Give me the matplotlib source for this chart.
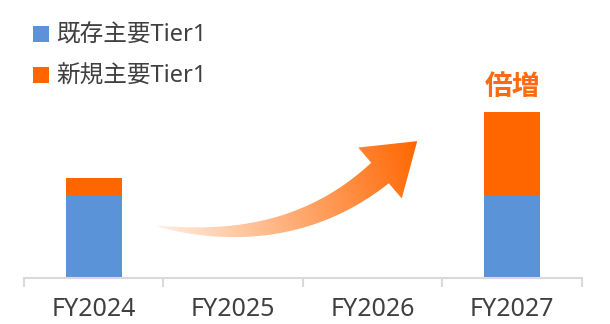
import numpy as np
import matplotlib
matplotlib.use("Agg")
import matplotlib.pyplot as plt
from matplotlib.patches import Polygon

plt.rcParams['font.family'] = ['Noto Sans', 'Noto Sans CJK JP']

# --- data ---
years = ['FY2024', 'FY2025', 'FY2026', 'FY2027']
existing = [100, 0, 0, 100]
new = [20, 0, 0, 100]
series_names = ['既存主要Tier1', '新規主要Tier1']
callout = '倍増'

BLUE = '#5B93D8'
ORANGE = '#FF6600'
TEXT = '#404040'
AXIS = '#D9D9D9'

W, H = 610, 324
fig = plt.figure(figsize=(W / 100, H / 100), dpi=100)
ax = fig.add_axes([24 / W, 1 - 278 / H, (582 - 24) / W, 278 / H])

x = np.arange(len(years))
ax.bar(x, existing, width=0.4, color=BLUE, label=series_names[0])
ax.bar(x, new, bottom=existing, width=0.4, color=ORANGE, label=series_names[1])
ax.set_xlim(-0.5, len(years) - 0.5)
ax.set_ylim(0, 335)

for s in ['top', 'left', 'right']:
    ax.spines[s].set_visible(False)
ax.spines['bottom'].set_color(AXIS)
ax.spines['bottom'].set_linewidth(1.5)
ax.set_yticks([])
ax.set_xticks(x)
ax.set_xticklabels(years, fontsize=18, color=TEXT)
ax.tick_params(axis='x', which='major', length=0, pad=14)
ax.set_xticks(np.arange(len(years) + 1) - 0.5, minor=True)
ax.tick_params(axis='x', which='minor', length=6.5, width=1.5, color=AXIS)

# label above the last bar
last = len(years) - 1
ax.annotate(callout, (x[last], existing[last] + new[last]),
            xytext=(0, 8), textcoords='offset points',
            ha='center', va='bottom', fontsize=20, fontweight='bold',
            color='#FF6A10', family=['Noto Sans CJK JP'])

ax.legend(loc='upper left', bbox_to_anchor=(33 / W, 1 - 24 / H),
          bbox_transform=fig.transFigure, frameon=False, fontsize=17,
          handlelength=0.68, handleheight=0.68, handletextpad=0.32,
          labelspacing=0.72, borderpad=0, borderaxespad=0, labelcolor=TEXT)

# --- curved gradient arrow (pixel space overlay) ---
ov = fig.add_axes([0, 0, 1, 1])
ov.axis('off')

p0 = np.array([157.0, 226.0])
cp = np.array([290.0, 250.0])
p2 = np.array([380.0, 173.0])
t = np.linspace(0, 1, 80)[:, None]
centre = (1 - t) ** 2 * p0 + 2 * (1 - t) * t * cp + t ** 2 * p2
tang = 2 * (1 - t) * (cp - p0) + 2 * t * (p2 - cp)
tang /= np.linalg.norm(tang, axis=1, keepdims=True)
norm = np.column_stack([-tang[:, 1], tang[:, 0]])
half = 13.5 * t[:, 0] ** 0.7
upper = centre - norm * half[:, None]
lower = centre + norm * half[:, None]

d = tang[-1]
n = norm[-1]
tip = p2 + 49 * d
barb_up = p2 - n * 33.5
barb_lo = p2 + n * 33.5
outline = np.vstack([upper, barb_up, tip, barb_lo, lower[::-1]])

clip = Polygon(outline, closed=True, facecolor='none', edgecolor='none')
ov.add_patch(clip)

x0, x1, y0, y1 = 150, 425, 135, 250
gx, gy = np.meshgrid(np.linspace(x0, x1, 300), np.linspace(y0, y1, 150))
v = tip - p0
s = ((gx - p0[0]) * v[0] + (gy - p0[1]) * v[1]) / (v @ v)
s = np.clip(s, 0, 1)[..., None]
c_start = np.array([255, 238, 226]) / 255
c_end = np.array([255, 102, 0]) / 255
img = c_start + (c_end - c_start) * s
im = ov.imshow(img, extent=(x0, x1, y1, y0), origin='upper',
               interpolation='bilinear', aspect='auto')
im.set_clip_path(clip)
ov.set_xlim(0, W)
ov.set_ylim(H, 0)

fig.savefig('out.png', dpi=100)
